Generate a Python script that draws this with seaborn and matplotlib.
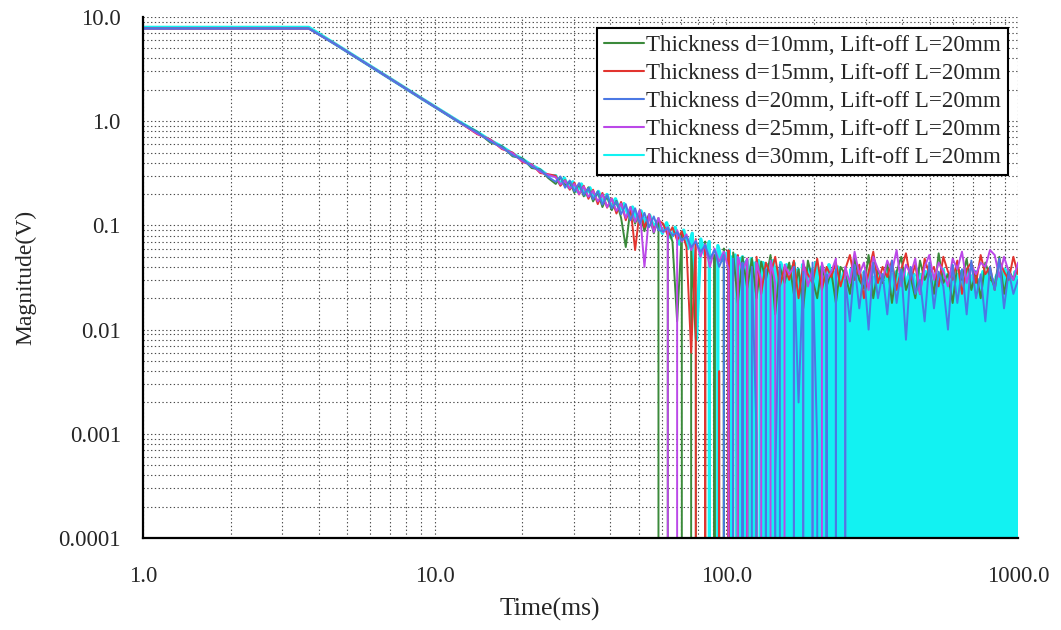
import numpy as np
import pandas as pd
import matplotlib
matplotlib.use("Agg")
import matplotlib.pyplot as plt
from matplotlib.lines import Line2D
from matplotlib.ticker import LogLocator, NullFormatter
import seaborn as sns

# ---------------------------------------------------------------------------
# Pulsed eddy-current transients, magnitude in mV.
# Smooth part of each transient, sampled at these times (ms)
time_head_ms = [1.0, 3.7, 4.5, 5.5, 7.0, 9.0, 12.0, 14.0, 15.5, 17.0,
                18.5, 20.0, 21.5, 23.0, 24.5]

d10_head_mv = [7750, 7750, 5600, 3950, 2570, 1650, 995, 790, 625, 575,
               460, 440, 355, 345, 285]
d15_head_mv = [7750, 7750, 5620, 3930, 2590, 1660, 1000, 750, 670, 540,
               500, 405, 385, 318, 310]
d20_head_mv = [7750, 7750, 5610, 3940, 2580, 1655, 1000, 780, 640, 565,
               470, 430, 365, 340, 292]
d25_head_mv = [7750, 7750, 5600, 3950, 2575, 1650, 998, 760, 660, 548,
               492, 412, 380, 326, 305]
d30_head_mv = [7950, 7950, 5640, 3960, 2590, 1660, 1005, 785, 655, 570,
               488, 432, 378, 342, 300]

# Noisy late part, log-spaced from 26 ms to 1000 ms (0 = negative sample)
d10_noise_mv = [
    250, 290, 240, 262, 205, 250, 190, 232, 170, 210,
    150, 192, 140, 172, 118, 62, 145, 104, 138, 88,
    126, 84, 118, 0, 95, 70, 12, 86, 0, 60,
    8, 0, 70, 0, 52, 0, 60, 0, 55, 18,
    50, 25, 48, 20, 45, 30, 52, 14, 40, 28,
    44, 22, 38, 16, 46, 30, 20, 42, 26, 36,
    18, 40, 34, 22, 48, 30, 25, 52, 20, 38,
    28, 44, 18, 36, 50, 24, 32, 20, 46, 30,
    38, 22, 54, 28, 34, 18, 42, 30, 48, 24,
    36, 20, 44, 32, 26, 50, 22, 38, 30, 40,
]
d15_noise_mv = [
    300, 240, 272, 220, 258, 198, 240, 180, 220, 160,
    205, 148, 182, 130, 168, 112, 150, 58, 140, 96,
    128, 90, 112, 104, 80, 96, 72, 88, 62, 6,
    74, 0, 60, 0, 0, 4, 0, 58, 0, 52,
    0, 48, 0, 50, 22, 44, 34, 50, 26, 40,
    30, 46, 20, 42, 34, 28, 48, 24, 40, 32,
    44, 26, 38, 52, 30, 42, 20, 36, 56, 28,
    40, 32, 46, 24, 38, 54, 30, 42, 22, 48,
    34, 40, 26, 50, 36, 30, 46, 22, 38, 44,
    28, 52, 34, 40, 24, 46, 36, 30, 50, 34,
]
d20_noise_mv = [
    262, 295, 230, 270, 212, 255, 196, 228, 178, 212,
    158, 196, 146, 170, 128, 160, 112, 146, 104, 132,
    96, 122, 90, 88, 94, 80, 86, 72, 78, 62,
    70, 56, 64, 48, 58, 40, 52, 0, 48, 0,
    44, 0, 40, 1, 0, 38, 0, 0.4, 42, 0,
    0, 40, 2, 36, 0, 44, 0.8, 0, 34, 0,
    38, 0, 30, 12, 42, 16, 36, 10, 44, 20,
    34, 14, 46, 18, 38, 8, 40, 22, 30, 12,
    44, 16, 36, 26, 10, 42, 18, 38, 14, 46,
    20, 34, 12, 40, 24, 48, 16, 36, 22, 30,
]
d25_noise_mv = [
    290, 248, 268, 226, 250, 200, 236, 188, 214, 170,
    198, 150, 180, 138, 162, 118, 150, 108, 140, 40,
    128, 86, 118, 86, 96, 0, 90, 70, 82, 58,
    72, 50, 66, 40, 60, 45, 56, 38, 0, 50,
    36, 48, 0, 44, 30, 0, 46, 28, 0, 42,
    34, 40, 0, 46, 26, 38, 0, 44, 30, 36,
    48, 0, 40, 28, 56, 34, 44, 24, 50, 38,
    30, 46, 36, 58, 26, 42, 34, 48, 22, 40,
    52, 30, 44, 36, 26, 48, 38, 56, 28, 42,
    34, 44, 40, 58, 52, 32, 50, 36, 30, 44,
]
# d = 30 mm is recorded more densely: 26-100 ms, then 100-1000 ms
d30_mid_mv = [
    300, 250, 285, 232, 262, 212, 250, 196, 230, 180,
    212, 166, 198, 150, 180, 140, 162, 126, 150, 112,
    138, 104, 126, 96, 112, 84, 106, 76, 96, 66,
    90, 60, 84, 8, 74, 52, 70, 0, 64, 46,
]
d30_tail_mv = [
    54, 48, 58, 0, 50, 44, 52, 46, 0, 48, 40, 50, 0, 44, 46, 38,
    0, 48, 42, 0, 44, 36, 46,
    40, 0, 44, 36, 0, 42, 38, 0, 34, 46, 0, 40, 32, 0, 44, 38,
    0, 36, 42, 0, 30, 40, 0, 44, 34, 0, 38, 28, 0, 42, 36, 0,
    32, 40, 0, 38, 30, 0, 44, 34, 0, 36, 40, 0, 28, 38, 0, 42,
    32, 0, 36, 30, 0, 40, 34, 0,
    30, 36, 0, 32, 28, 0, 38, 30, 0, 26, 34, 0,
    34, 28, 0, 36, 32, 0, 30, 38, 0, 28, 32, 0,
    36, 30, 0, 34, 26, 0, 32, 38, 0, 30, 34, 0,
    28, 36, 0, 34, 30, 0, 38, 28, 0, 32, 36, 0,
    30, 34, 0, 26, 38, 0, 34, 30, 0, 36, 28, 0,
    32, 36, 0, 30, 34, 0, 28, 32, 0, 38, 30, 0,
    34, 28, 0, 32, 36, 0, 30, 34, 0, 36, 26, 0,
    28, 38, 0, 34, 30, 0, 32, 36, 0, 30, 28, 0,
    36, 32, 0, 34, 38, 0, 28, 30, 0, 32, 34, 0,
    30, 36, 0, 38, 28, 0, 34, 32, 0, 30, 36, 0,
    32,
]

series_labels = [
    "Thickness d=10mm, Lift-off L=20mm",
    "Thickness d=15mm, Lift-off L=20mm",
    "Thickness d=20mm, Lift-off L=20mm",
    "Thickness d=25mm, Lift-off L=20mm",
    "Thickness d=30mm, Lift-off L=20mm",
]
series_colors = ["#3b8a3b", "#e2342f", "#4b78e4", "#bb48e8", "#12f2f2"]

x_ticks = [1, 10, 100, 1000]
x_tick_labels = ["1.0", "10.0", "100.0", "1000.0"]
y_ticks = [1e-4, 1e-3, 1e-2, 1e-1, 1, 10]
y_tick_labels = ["0.0001", "0.001", "0.01", "0.1", "1.0", "10.0"]


def build_frame(label, times, values_mv):
    return pd.DataFrame({
        "time": np.asarray(times, dtype=float),
        "magnitude": np.asarray(values_mv, dtype=float) / 1000.0,
        "series": label,
    })


frames = {}
heads = [d10_head_mv, d15_head_mv, d20_head_mv, d25_head_mv]
noises = [d10_noise_mv, d15_noise_mv, d20_noise_mv, d25_noise_mv]
for label, head, noise in zip(series_labels[:4], heads, noises):
    t = np.concatenate([time_head_ms, np.geomspace(26, 1000, len(noise))])
    frames[label] = build_frame(label, t, list(head) + list(noise))

t30 = np.concatenate([
    time_head_ms,
    np.geomspace(26, 100, len(d30_mid_mv), endpoint=False),
    np.geomspace(100, 1000, len(d30_tail_mv)),
])
frames[series_labels[4]] = build_frame(
    series_labels[4], t30, d30_head_mv + d30_mid_mv + d30_tail_mv)

# ---------------------------------------------------------------------------
sns.set_theme(style="white")
plt.rcParams["font.family"] = ["Liberation Serif", "DejaVu Serif"]
plt.rcParams["path.simplify"] = False

fig = plt.figure(figsize=(10.61, 6.30), dpi=100)
ax = fig.add_axes([0.1348, 0.146, 0.8247, 0.827])

# thick-plate trace underneath, the others drawn over it
draw_order = [4, 0, 1, 3, 2]
for i in draw_order:
    lab = series_labels[i]
    sns.lineplot(data=frames[lab], x="time", y="magnitude", ax=ax,
                 color=series_colors[i], linewidth=2.4 if i == 4 else 1.4,
                 estimator=None, sort=False, legend=False)

ax.set_xscale("log")
ax.set_yscale("log")
ax.set_xlim(1, 1000)
ax.set_ylim(1e-4, 10)

ax.xaxis.set_minor_locator(LogLocator(base=10, subs=np.arange(2, 10)))
ax.yaxis.set_minor_locator(LogLocator(base=10, subs=np.arange(2, 10)))
ax.xaxis.set_minor_formatter(NullFormatter())
ax.yaxis.set_minor_formatter(NullFormatter())
ax.set_xticks(x_ticks, x_tick_labels)
ax.set_yticks(y_ticks, y_tick_labels)
ax.tick_params(which="both", length=0, labelsize=16.5)
ax.tick_params(axis="x", pad=20)
ax.tick_params(axis="y", pad=16)

ax.set_axisbelow(True)
ax.grid(True, which="both", axis="both", color="#4a4a4a",
        linestyle=(0, (1.2, 2.2)), linewidth=0.8)

for side in ("top", "right"):
    ax.spines[side].set_visible(False)
for side in ("left", "bottom"):
    ax.spines[side].set_color("black")
    ax.spines[side].set_linewidth(1.6)

ax.set_xlabel("Time(ms)", fontsize=18.5)
ax.xaxis.set_label_coords(0.465, -0.115)
ax.set_ylabel("Magnitude(V)", fontsize=17, labelpad=16)

handles = [Line2D([], [], color=c, linewidth=1.5) for c in series_colors]
leg = ax.legend(handles, series_labels, loc="upper right",
                bbox_to_anchor=(0.9886, 0.979), fontsize=16.6,
                frameon=True, fancybox=False, framealpha=1.0,
                edgecolor="black", handlelength=1.75, handletextpad=0.1,
                labelspacing=0.3, borderpad=0.3, borderaxespad=0.0)
leg.get_frame().set_linewidth(1.5)

fig.savefig("out.png", dpi=100)
